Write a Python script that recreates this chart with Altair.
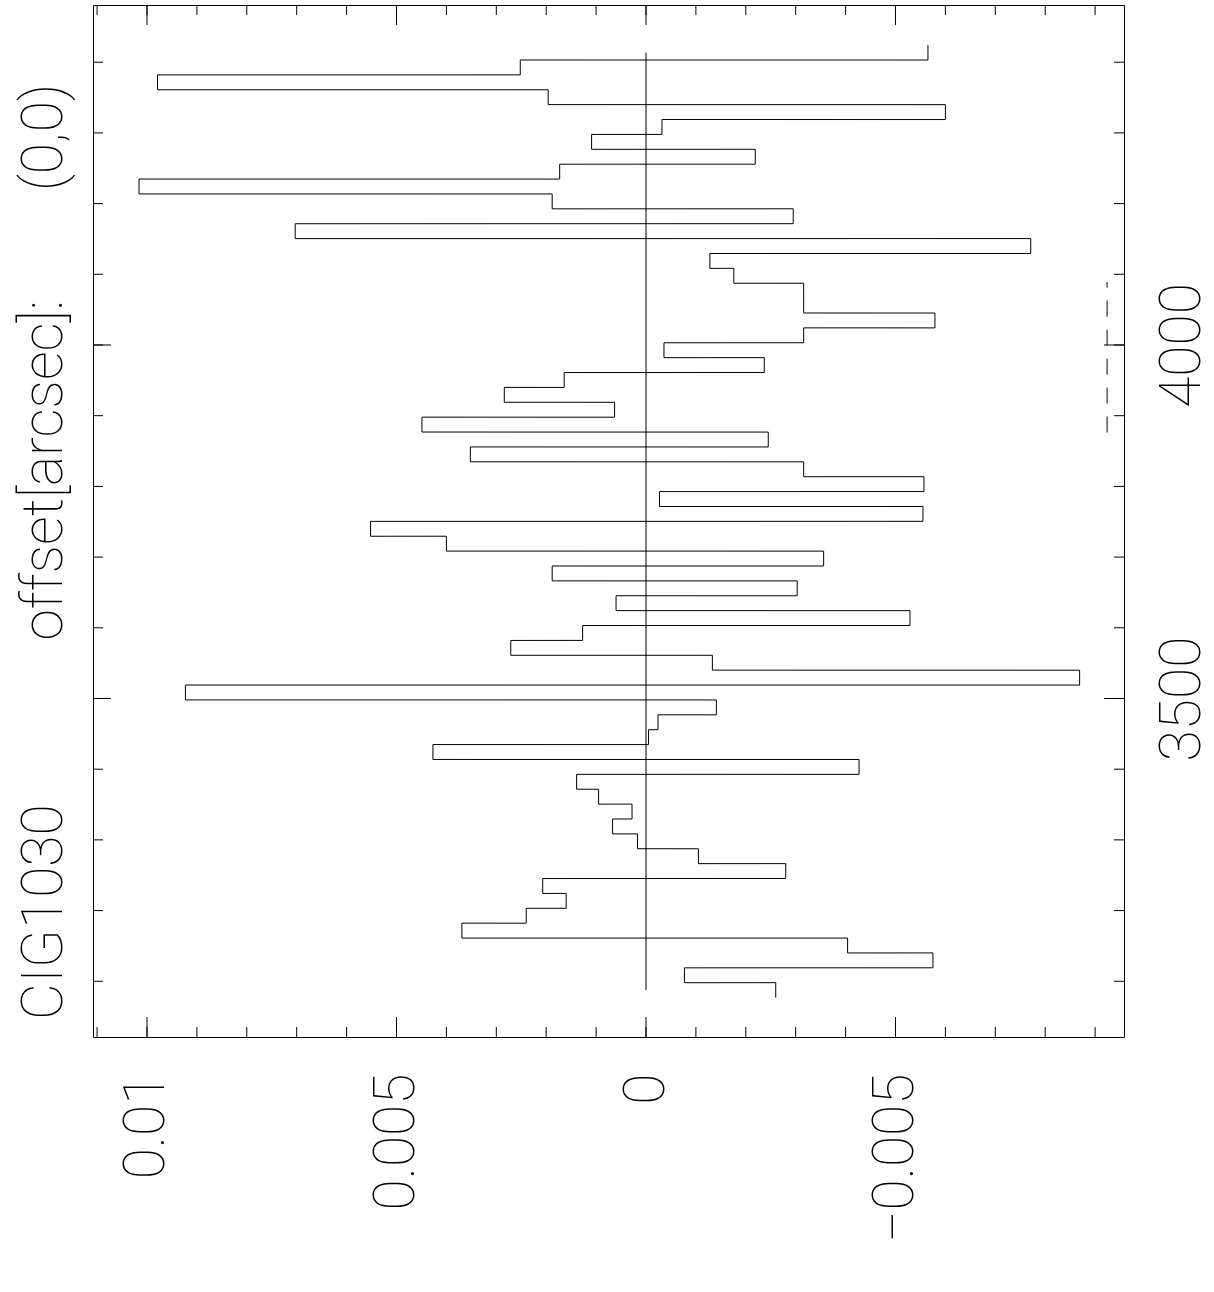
import altair as alt
import pandas as pd

# ---------------- data ----------------
# channel centres (velocity, km/s), top of the plot to bottom
velocity = [4413.6, 4392.6, 4371.5, 4350.5, 4329.4, 4308.4, 4287.3, 4266.3,
            4245.2, 4224.2, 4203.1, 4182.1, 4161.0, 4140.0, 4118.9, 4097.9,
            4076.8, 4055.8, 4034.7, 4013.7, 3992.6, 3971.6, 3950.5, 3929.5,
            3908.4, 3887.4, 3866.3, 3845.3, 3824.2, 3803.2, 3782.1, 3761.1,
            3740.0, 3719.0, 3697.9, 3676.9, 3655.8, 3634.8, 3613.7, 3592.7,
            3571.6, 3550.6, 3529.5, 3508.5, 3487.4, 3466.4, 3445.3, 3424.3,
            3403.2, 3382.2, 3361.1, 3340.1, 3319.0, 3298.0, 3276.9, 3255.9,
            3234.8, 3213.8, 3192.7, 3171.7, 3150.6, 3129.6, 3108.5, 3087.5]
channel_width = 21.05

# intensity per channel (same order)
intensity = [-0.00565, 0.00252, 0.00979, 0.00196, -0.00600, -0.00032, 0.00109, -0.00219,
             0.00173, 0.01016, 0.00188, -0.00295, 0.00703, -0.00771, -0.00128, -0.00176,
             -0.00316, -0.00316, -0.00579, -0.00316, -0.00036, -0.00237, 0.00164, 0.00284,
             0.00063, 0.00449, -0.00245, 0.00352, -0.00316, -0.00557, -0.00027, -0.00555,
             0.00552, 0.00400, -0.00356, 0.00188, -0.00303, 0.00060, -0.00529, 0.00127,
             0.00271, -0.00133, -0.00869, 0.00923, -0.00141, -0.00024, -0.00005, 0.00427,
             -0.00427, 0.00139, 0.00095, 0.00028, 0.00067, 0.00017, -0.00105, -0.00280,
             0.00207, 0.00160, 0.00240, 0.00369, -0.00404, -0.00575, -0.00077, -0.00260]

# dashed window marker on the right side
window_intensity = [-0.00924]
window_lo = [3876.0]
window_hi = [4089.0]

# axis ticks and labels
x_label_values = [0.01, 0.005, 0.0, -0.005]
x_major_ticks = [0.01, 0.005, 0.0, -0.005]
x_minor_ticks = [-0.009, -0.008, -0.007, -0.006, -0.005, -0.004, -0.003, -0.002,
                 -0.001, 0.0, 0.001, 0.002, 0.003, 0.004, 0.005, 0.006, 0.007,
                 0.008, 0.009, 0.010, 0.011]
y_label_values = [3500, 4000]
y_major_ticks = [3500, 4000]
y_minor_ticks = [3100, 3200, 3300, 3400, 3500, 3600, 3700, 3800, 3900, 4000,
                 4100, 4200, 4300, 4400]

NB = "\u00a0"
title_text = "CIG1030" + NB * 12 + "offset[arcsec]:" + NB * 8 + "(0,0)"

# ---------------- derived tables ----------------
rows = []
for i, (v, t) in enumerate(zip(velocity, intensity)):
    rows.append({"k": 2 * i, "v": v + channel_width / 2, "T": t})
    rows.append({"k": 2 * i + 1, "v": v - channel_width / 2, "T": t})
step_df = pd.DataFrame(rows)

base_df = pd.DataFrame({"T": [0.0], "v1": [velocity[0]], "v2": [velocity[-1]]})
win_df = pd.DataFrame({"T": window_intensity, "v1": window_lo, "v2": window_hi})
xmin_df = pd.DataFrame({"T": x_minor_ticks})
xmaj_df = pd.DataFrame({"T": x_major_ticks})
ymin_df = pd.DataFrame({"v": y_minor_ticks})
ymaj_df = pd.DataFrame({"v": y_major_ticks})

W, H = 1031, 1032
FONT = "Roboto"
FS = 57

xs = alt.Scale(domain=[-0.009579, 0.011082], reverse=True, nice=False, zero=False)
ys = alt.Scale(domain=[3021.2, 4480.9], nice=False, zero=False)

x_axis = alt.Axis(values=x_label_values, format=".3~f", orient="bottom", labelAngle=270,
                  labelAlign="right", labelBaseline="middle", labelPadding=36,
                  ticks=False, domain=False, grid=False, title=None,
                  labelFont=FONT, labelFontSize=FS, labelFontWeight=100, labelColor="black")
y_axis = alt.Axis(values=y_label_values, format="d", orient="right", labelAngle=270,
                  labelAlign="center", labelBaseline="top", labelPadding=30,
                  ticks=False, domain=False, grid=False, title=None,
                  labelFont=FONT, labelFontSize=FS, labelFontWeight=100, labelColor="black")

step = alt.Chart(step_df).mark_line(color="black", strokeWidth=1).encode(
    x=alt.X("T:Q", scale=xs, axis=x_axis),
    y=alt.Y("v:Q", scale=ys, axis=y_axis),
    order="k:Q",
)

baseline = alt.Chart(base_df).mark_rule(color="black", strokeWidth=1).encode(
    x=alt.X("T:Q", scale=xs, axis=x_axis),
    y=alt.Y("v1:Q", scale=ys, axis=y_axis),
    y2="v2:Q",
)

window = alt.Chart(win_df).mark_rule(color="black", strokeWidth=1, strokeDash=[16, 13]).encode(
    x=alt.X("T:Q", scale=xs, axis=x_axis),
    y=alt.Y("v1:Q", scale=ys, axis=y_axis),
    y2="v2:Q",
)


def xticks(df, y0, y1):
    return alt.Chart(df).mark_rule(color="black", strokeWidth=1).encode(
        x=alt.X("T:Q", scale=xs, axis=x_axis),
        y=alt.value(y0), y2=alt.value(y1),
    )


def yticks(df, x0, x1):
    return alt.Chart(df).mark_rule(color="black", strokeWidth=1).encode(
        y=alt.Y("v:Q", scale=ys, axis=y_axis),
        x=alt.value(x0), x2=alt.value(x1),
    )


tick_layers = [
    xticks(xmin_df, 0, 10), xticks(xmaj_df, 0, 20),
    xticks(xmin_df, H, H - 10), xticks(xmaj_df, H, H - 20),
    yticks(ymin_df, 0, 10), yticks(ymaj_df, 0, 18),
    yticks(ymin_df, W, W - 10), yticks(ymaj_df, W, W - 20),
]

chart = alt.layer(step, baseline, window, *tick_layers).properties(
    width=W, height=H,
    autosize=alt.AutoSizeParams(type="none"),
    padding={"left": 93, "top": 5, "right": 90, "bottom": 255},
    title=alt.TitleParams(text=title_text, orient="left", anchor="start", frame="group",
                          font=FONT, fontSize=FS, fontWeight=100, color="black",
                          offset=19, dx=17),
).configure(
    background="white"
).configure_view(
    stroke="black", strokeWidth=1
)

chart.save("out.html", embed_options={"renderer": "svg", "actions": False})
